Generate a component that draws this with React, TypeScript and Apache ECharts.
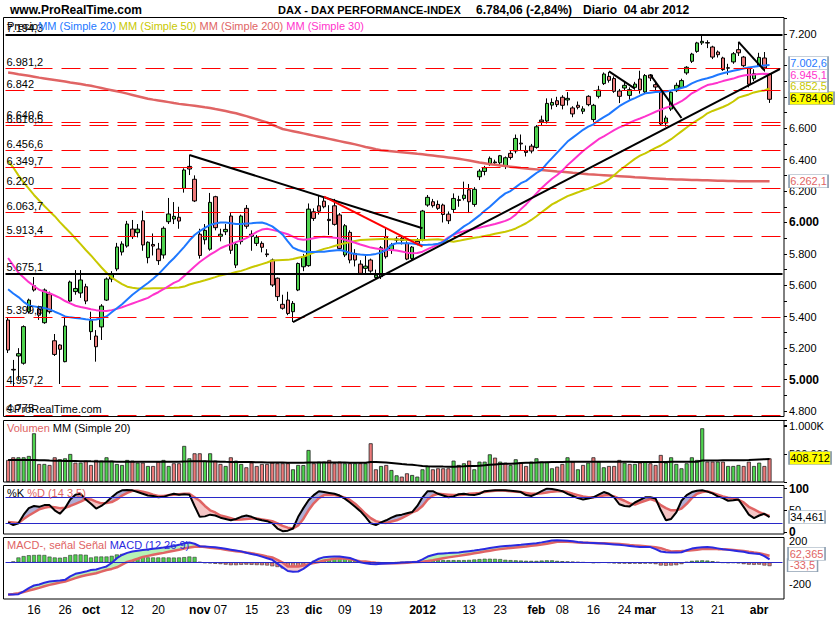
import React, { useEffect, useRef } from "react";
import * as echarts from "echarts";

const W = 835;
const H = 620;
const FONT = '"Liberation Sans", Arial, Helvetica, sans-serif';
const GREEN = "#4fd34f";
const RED = "#ec7a7a";
const BLUE = "#1e78ff";
const OLIVE = "#c8c800";
const SALMON = "#e06464";
const MAGENTA = "#ff33cc";
const MACDBLUE = "#2a2ae0";

// ---------------- data (DAX daily, 09 sep 2011 - 04 abr 2012) ----------------
const opens = [
  5379, 5065, 5150, 5104, 5432, 5597, 5450, 5362, 5545, 5247,
  5220, 5114, 5500, 5560, 5551, 5591, 5305, 5277, 5335, 5506,
  5640, 5704, 5812, 5850, 5958, 5935, 6011, 5776, 5860, 5831,
  5793, 6005, 6022, 6033, 6217, 6357, 6275, 5925, 5890, 5830,
  6164, 5912, 5941, 6041, 5729, 5878, 6090, 5912, 5867, 5867,
  5800, 5761, 5645, 5479, 5506, 5432, 5570, 5718, 5725, 6068,
  6106, 6136, 6020, 6106, 6048, 5793, 5937, 5803, 5735, 5708,
  5761, 5650, 5655, 5909, 5824, 5895, 5900, 5867, 5771, 5880,
  5888, 6111, 6132, 6115, 6111, 6053, 6083, 6145, 6153, 6208,
  6115, 6291, 6325, 6376, 6380, 6380, 6361, 6440, 6455, 6505,
  6455, 6486, 6478, 6652, 6646, 6747, 6775, 6797, 6780, 6729,
  6746, 6708, 6803, 6655, 6803, 6884, 6930, 6916, 6837, 6856,
  6809, 6860, 6913, 6831, 6939, 6877, 6829, 6633, 6722, 6839,
  6860, 6952, 7026, 7089, 7143, 7145, 7117, 7085, 7047, 6985,
  7022, 7100, 7053, 6983, 6915, 6998, 7047, 6945,
];
const highs = [
  5394, 5125, 5200, 5345, 5515, 5653, 5470, 5580, 5560, 5290,
  5225, 5400, 5630, 5697, 5697, 5610, 5432, 5315, 5480, 5650,
  5690, 5870, 5880, 6010, 6016, 5990, 6075, 5880, 5930, 5870,
  5975, 6156, 6130, 6100, 6345, 6430, 6300, 5960, 5990, 6188,
  6170, 5960, 5990, 6060, 5870, 6050, 6111, 5950, 5920, 5880,
  5830, 5770, 5650, 5540, 5559, 5500, 5745, 5800, 6121, 6090,
  6175, 6162, 6110, 6150, 6060, 5990, 5950, 5830, 5760, 5790,
  5770, 5700, 5850, 5966, 5870, 5910, 5915, 5880, 5850, 5900,
  6080, 6175, 6150, 6140, 6120, 6070, 6185, 6170, 6260, 6245,
  6225, 6340, 6360, 6420, 6400, 6430, 6420, 6460, 6560, 6560,
  6490, 6500, 6620, 6680, 6790, 6790, 6800, 6810, 6830, 6740,
  6770, 6740, 6810, 6755, 6870, 6955, 6958, 6930, 6850, 6900,
  6860, 6895, 6966, 6945, 6945, 6900, 6840, 6680, 6840, 6890,
  6915, 6995, 7080, 7150, 7194, 7160, 7125, 7095, 7055, 7010,
  7085, 7150, 7060, 6990, 6975, 7080, 7085, 6950,
];
const lows = [
  5169, 4957, 5000, 5095, 5420, 5560, 5380, 5355, 5420, 5150,
  4972, 5110, 5495, 5540, 5520, 5480, 5252, 5114, 5252, 5500,
  5620, 5690, 5790, 5840, 5895, 5905, 5820, 5740, 5790, 5730,
  5770, 5990, 5990, 5960, 6190, 6302, 6130, 5770, 5860, 5820,
  5950, 5880, 5920, 5800, 5710, 5860, 5960, 5820, 5850, 5810,
  5780, 5590, 5500, 5445, 5410, 5366, 5563, 5690, 5718, 6010,
  6050, 6090, 5920, 5980, 5820, 5780, 5740, 5720, 5670, 5670,
  5680, 5640, 5640, 5770, 5800, 5870, 5860, 5760, 5760, 5855,
  5880, 6100, 6095, 6080, 6000, 5990, 6060, 6100, 6140, 6060,
  6100, 6270, 6300, 6360, 6360, 6360, 6340, 6400, 6440, 6460,
  6420, 6440, 6470, 6620, 6630, 6720, 6735, 6720, 6745, 6670,
  6720, 6690, 6740, 6640, 6790, 6875, 6890, 6825, 6760, 6840,
  6780, 6845, 6820, 6820, 6900, 6830, 6615, 6610, 6710, 6830,
  6850, 6940, 7015, 7080, 7130, 7110, 7040, 7050, 6965, 6940,
  7010, 7060, 6990, 6860, 6900, 6990, 6960, 6761,
];
const closes = [
  5188, 5061, 5165, 5337, 5506, 5570, 5410, 5570, 5432, 5160,
  5193, 5341, 5621, 5580, 5634, 5500, 5375, 5209, 5468, 5640,
  5672, 5844, 5863, 5990, 5910, 5958, 5857, 5874, 5850, 5757,
  5963, 6054, 6039, 6009, 6334, 6340, 6137, 5790, 5950, 6128,
  5967, 5925, 5956, 5823, 5861, 6041, 5976, 5925, 5906, 5842,
  5795, 5602, 5528, 5454, 5421, 5485, 5739, 5782, 6085, 6026,
  6072, 6100, 6012, 5988, 5835, 5979, 5761, 5761, 5676, 5722,
  5691, 5665, 5839, 5782, 5856, 5888, 5885, 5767, 5843, 5865,
  6073, 6160, 6107, 6090, 6051, 6011, 6153, 6140, 6174, 6132,
  6211, 6327, 6348, 6408, 6385, 6425, 6412, 6414, 6535, 6500,
  6446, 6455, 6609, 6641, 6758, 6764, 6750, 6746, 6790, 6691,
  6733, 6723, 6750, 6746, 6843, 6945, 6905, 6835, 6803, 6873,
  6845, 6881, 6845, 6935, 6920, 6862, 6627, 6665, 6829, 6873,
  6903, 6988, 7072, 7143, 7153, 7142, 7053, 7068, 6973, 6982,
  7074, 7080, 6998, 6880, 6947, 7051, 6984, 6784.06,
];
const changePct = -2.84;

const ma20 = [
  5575, 5548, 5525, 5495, 5472, 5466, 5460, 5455, 5447, 5432,
  5418, 5402, 5396, 5392, 5389, 5384, 5380, 5383, 5390, 5402,
  5428, 5454, 5480, 5510, 5540, 5565, 5591, 5615, 5642, 5670,
  5705, 5740, 5772, 5808, 5845, 5885, 5920, 5945, 5965, 5984,
  5993, 6000, 6000, 5995, 5990, 5990, 5993, 5995, 5998, 6000,
  5990, 5975, 5950, 5922, 5880, 5840, 5825, 5815, 5812, 5812,
  5813, 5814, 5818, 5822, 5825, 5818, 5806, 5800, 5796, 5793,
  5795, 5800, 5808, 5825, 5858, 5868, 5868, 5867, 5866, 5862,
  5857, 5858, 5860, 5865, 5875, 5900, 5925, 5950, 5975, 5995,
  6020, 6045, 6075, 6100, 6130, 6160, 6185, 6200, 6225, 6250,
  6265, 6290, 6315, 6335, 6375, 6410, 6445, 6480, 6515, 6540,
  6565, 6590, 6610, 6625, 6650, 6670, 6690, 6715, 6740, 6760,
  6778, 6792, 6808, 6822, 6826, 6830, 6832, 6834, 6840, 6847,
  6856, 6866, 6885, 6900, 6910, 6918, 6928, 6940, 6950, 6958,
  6966, 6972, 6980, 6987, 6992, 6996, 7000, 7002.6,
];
const ma30 = [
  5774, 5727, 5680, 5650, 5620, 5596, 5572, 5560, 5550, 5535,
  5520, 5500, 5485, 5470, 5462, 5455, 5448, 5442, 5438, 5437,
  5442, 5450, 5460, 5472, 5484, 5496, 5508, 5520, 5540, 5556,
  5575, 5595, 5615, 5630, 5660, 5690, 5720, 5748, 5772, 5795,
  5815, 5836, 5850, 5862, 5875, 5886, 5900, 5920, 5940, 5955,
  5960, 5953, 5945, 5935, 5925, 5910, 5895, 5890, 5893, 5900,
  5906, 5909, 5906, 5903, 5900, 5890, 5880, 5871, 5860, 5850,
  5840, 5835, 5830, 5826, 5825, 5822, 5815, 5808, 5804, 5806,
  5814, 5830, 5845, 5860, 5880, 5905, 5922, 5935, 5945, 5952,
  5960, 5966, 5975, 5982, 5990, 6000, 6010, 6025, 6050, 6085,
  6115, 6150, 6185, 6220, 6250, 6278, 6302, 6330, 6365, 6395,
  6425, 6455, 6480, 6505, 6530, 6548, 6568, 6588, 6605, 6618,
  6635, 6650, 6662, 6675, 6690, 6705, 6718, 6730, 6742, 6755,
  6772, 6795, 6822, 6840, 6858, 6875, 6882, 6890, 6900, 6908,
  6916, 6928, 6935, 6940, 6942, 6945, 6946, 6945.1,
];
const ma50 = [
  6390, 6350, 6300, 6255, 6215, 6175, 6140, 6105, 6072, 6040,
  6002, 5968, 5935, 5898, 5862, 5825, 5790, 5752, 5715, 5680,
  5650, 5628, 5608, 5591, 5585, 5580, 5580, 5580, 5581, 5581,
  5582, 5583, 5584, 5586, 5592, 5605, 5615, 5623, 5632, 5642,
  5652, 5663, 5670, 5676, 5685, 5692, 5703, 5715, 5725, 5735,
  5745, 5758, 5760, 5761, 5762, 5768, 5775, 5782, 5795, 5808,
  5820, 5832, 5840, 5850, 5860, 5868, 5876, 5882, 5888, 5890,
  5892, 5894, 5895, 5895, 5894, 5892, 5890, 5889, 5888, 5888,
  5889, 5890, 5892, 5893, 5888, 5882, 5878, 5883, 5890, 5897,
  5903, 5908, 5914, 5920, 5928, 5935, 5941, 5950, 5962, 5978,
  5995, 6016, 6040, 6065, 6090, 6115, 6132, 6150, 6168, 6180,
  6192, 6205, 6215, 6228, 6242, 6255, 6275, 6300, 6330, 6355,
  6380, 6405, 6425, 6440, 6458, 6475, 6490, 6510, 6530, 6555,
  6580, 6605, 6630, 6650, 6670, 6695, 6710, 6722, 6735, 6750,
  6770, 6795, 6805, 6815, 6828, 6835, 6840, 6852.5,
];
const ma200 = [
  6955, 6950, 6944, 6939, 6934, 6928, 6922, 6917, 6912, 6907,
  6902, 6897, 6891, 6886, 6881, 6875, 6870, 6863, 6856, 6849,
  6842, 6835, 6828, 6820, 6812, 6804, 6796, 6788, 6782, 6777,
  6772, 6766, 6760, 6755, 6751, 6747, 6743, 6738, 6733, 6729,
  6722, 6716, 6709, 6702, 6695, 6686, 6677, 6667, 6657, 6647,
  6637, 6622, 6608, 6595, 6588, 6581, 6574, 6567, 6560, 6553,
  6546, 6539, 6532, 6525, 6518, 6511, 6504, 6497, 6489, 6481,
  6474, 6466, 6460, 6457, 6454, 6450, 6447, 6444, 6441, 6437,
  6434, 6430, 6426, 6422, 6418, 6414, 6410, 6406, 6400, 6394,
  6388, 6382, 6377, 6371, 6367, 6363, 6359, 6355, 6351, 6347,
  6344, 6341, 6338, 6334, 6331, 6328, 6325, 6323, 6320, 6316,
  6313, 6310, 6307, 6305, 6303, 6301, 6299, 6297, 6295, 6293,
  6291, 6288, 6286, 6284, 6282, 6280, 6278, 6276, 6275, 6274,
  6273, 6272, 6271, 6270, 6269, 6268, 6267, 6266, 6265, 6264,
  6264, 6263, 6263, 6262, 6262, 6262, 6262, 6262.1,
];

// volume in thousands
const volumes = [
  391, 438, 438, 438, 462, 864, 320, 320, 302, 438,
  403, 420, 497, 343, 343, 379, 302, 391, 379, 438,
  379, 320, 302, 391, 379, 343, 343, 284, 284, 361,
  391, 284, 332, 332, 640, 420, 509, 509, 379, 509,
  379, 320, 284, 438, 379, 320, 261, 343, 284, 320,
  320, 343, 332, 332, 332, 225, 302, 300, 568, 332,
  361, 361, 391, 332, 361, 332, 332, 332, 332, 332,
  687, 225, 284, 302, 213, 118, 95, 154, 124, 95,
  225, 284, 225, 243, 243, 243, 379, 302, 332, 379,
  225, 361, 361, 491, 432, 361, 343, 302, 403, 343,
  284, 361, 420, 361, 361, 243, 272, 320, 438, 361,
  225, 302, 343, 438, 361, 261, 284, 284, 391, 343,
  320, 320, 343, 361, 332, 302, 480, 343, 438, 320,
  243, 332, 438, 391, 953, 361, 361, 361, 361, 284,
  284, 302, 284, 361, 284, 343, 284, 420,
];
const volumeMA = [
  390, 391, 391, 391, 390, 392, 388, 385, 380, 378,
  376, 374, 372, 372, 370, 368, 366, 365, 364, 363,
  362, 361, 360, 360, 360, 360, 361, 361, 360, 360,
  360, 360, 360, 360, 365, 366, 368, 368, 366, 364,
  362, 360, 358, 357, 356, 355, 354, 353, 352, 350,
  348, 346, 345, 344, 343, 343, 343, 343, 346, 345,
  345, 345, 345, 344, 344, 344, 343, 343, 343, 343,
  356, 355, 350, 345, 338, 330, 320, 312, 305, 295,
  285, 280, 277, 275, 273, 272, 272, 275, 278, 282,
  285, 290, 296, 305, 312, 318, 322, 325, 330, 335,
  340, 343, 346, 350, 352, 355, 356, 357, 358, 358,
  358, 358, 358, 358, 358, 359, 359, 359, 359, 359,
  358, 357, 356, 355, 355, 355, 356, 357, 358, 359,
  359, 358, 358, 358, 380, 381, 382, 383, 384, 385,
  386, 387, 388, 390, 395, 400, 404, 408.712,
];

const stochK = [
  22, 16, 20, 40, 55, 60, 58, 62, 62, 50,
  42, 55, 75, 86, 88, 75, 65, 54, 60, 69,
  80, 90, 96, 97, 96, 92, 88, 84, 83, 80,
  81, 85, 88, 86, 87, 86, 60, 35, 36, 40,
  38, 33, 30, 27, 30, 35, 38, 35, 30, 27,
  25, 20, 8, 2, 3, 8, 35, 55, 73, 85,
  94, 92, 90, 88, 84, 77, 68, 58, 48, 35,
  20, 16, 22, 27, 33, 38, 40, 43, 46, 60,
  80, 94, 94, 88, 84, 80, 82, 87, 88, 86,
  85, 88, 94, 95, 96, 96, 96, 95, 94, 92,
  85, 83, 88, 94, 100, 99, 97, 94, 88, 83,
  78, 75, 77, 80, 86, 92, 88, 80, 64, 60,
  59, 68, 74, 80, 80, 77, 50, 27, 30, 45,
  72, 85, 92, 95, 96, 93, 89, 82, 78, 72,
  73, 75, 58, 40, 32, 38, 42, 34.461,
];
const stochD = [
  23, 22, 21, 30, 38, 45, 52, 56, 58, 57,
  55, 56, 60, 65, 70, 76, 75, 70, 66, 67,
  69, 75, 84, 90, 95, 95, 93, 90, 86, 83,
  83, 85, 86, 87, 88, 88, 80, 72, 60, 50,
  45, 38, 35, 32, 28, 29, 30, 31, 31, 29,
  27, 25, 20, 14, 10, 8, 15, 30, 50, 66,
  78, 85, 86, 85, 83, 79, 74, 65, 54, 42,
  32, 25, 22, 21, 24, 27, 32, 38, 45, 50,
  60, 75, 84, 88, 87, 86, 85, 85, 86, 88,
  89, 90, 92, 94, 95, 96, 95, 94, 93, 92,
  90, 88, 88, 89, 91, 93, 94, 94, 92, 88,
  85, 82, 80, 80, 82, 84, 85, 82, 77, 72,
  66, 63, 68, 72, 76, 72, 62, 55, 50, 50,
  54, 65, 78, 88, 92, 94, 90, 86, 82, 79,
  77, 74, 68, 58, 52, 46, 41, 37,
];

const macdLine = [
  -300, -298, -296, -270, -240, -215, -205, -190, -178, -172,
  -168, -162, -130, -106, -95, -85, -70, -65, -50, -37,
  -5, 40, 70, 90, 103, 110, 117, 122, 128, 134,
  140, 148, 155, 165, 180, 187, 175, 152, 150, 146,
  142, 136, 128, 120, 112, 104, 92, 80, 70, 55,
  40, 25, -10, -45, -80, -86, -84, -60, -25, 10,
  35, 50, 53, 56, 55, 50, 42, 25, 2, -8,
  -15, -16, -12, -10, -6, -4, 0, 2, 4, 8,
  30, 56, 70, 81, 85, 88, 92, 94, 100, 106,
  112, 119, 127, 135, 143, 150, 154, 157, 161, 165,
  170, 175, 180, 188, 197, 206, 207, 206, 203, 198,
  192, 188, 185, 183, 181, 177, 173, 169, 165, 160,
  155, 149, 144, 144, 144, 125, 103, 96, 94, 94,
  96, 115, 130, 138, 143, 144, 140, 132, 124, 118,
  112, 106, 100, 88, 83, 80, 60, 28.865,
];
const macdSignal = [
  -302, -295, -287, -275, -262, -250, -237, -222, -209, -198,
  -188, -178, -162, -146, -131, -120, -110, -100, -85, -70,
  -60, -45, -20, 5, 19, 35, 52, 62, 72, 81,
  90, 100, 110, 120, 130, 140, 148, 150, 145, 138,
  134, 128, 120, 112, 106, 100, 93, 87, 78, 68,
  56, 47, 25, 0, -37, -38, -37, -28, -15, -5,
  5, 19, 27, 35, 40, 38, 30, 20, 12, 9,
  3, -2, -6, -6, -6, -6, -4, -2, 2, 5,
  8, 14, 22, 31, 40, 48, 55, 62, 70, 78,
  86, 94, 102, 110, 118, 125, 130, 135, 140, 145,
  150, 156, 162, 168, 176, 185, 194, 197, 195, 191,
  187, 185, 184, 183, 181, 179, 177, 175, 172, 168,
  164, 160, 156, 152, 148, 142, 134, 118, 103, 105,
  107, 110, 115, 120, 125, 126, 126, 125, 125, 122,
  118, 113, 108, 100, 93, 87, 75, 62.365,
];
const macdHist = [
  0, 10, 47, 60, 68, 70, 72, 70, 55, 47,
  45, 50, 70, 75, 75, 72, 47, 56, 56, 56,
  62, 75, 80, 80, 81, 78, 55, 48, 47, 47,
  47, 47, 46, 47, 50, 56, 52, 5, -5, -8,
  -12, -15, -20, -25, -25, -22, -20, -22, -24, -25,
  -28, -35, -42, -55, -68, -75, -55, -30, -5, 15,
  30, 40, 50, 56, 52, 45, 30, 20, 10, 2,
  -8, -10, -8, -5, -2, 2, 4, 5, 5, 5,
  20, 30, 28, 24, 22, 22, 22, 22, 22, 24,
  28, 32, 35, 35, 34, 32, 25, 22, 20, 18,
  16, 15, 15, 18, 20, 20, 15, 12, 10, 8,
  5, 2, 0, -5, -2, 0, -3, -8, -10, -10,
  -12, -10, -12, -10, -10, -15, -28, -30, -28, -25,
  -15, 5, 15, 18, 20, 18, 12, 5, -2, -5,
  -3, -8, -15, -20, -22, -20, -28, -33.5,
];

// x-axis tick labels (trading-day index -> text)
const tickIndex = [5, 11, 16, 23, 29, 37, 41, 47, 53, 59, 65, 71, 80, 89, 95, 102, 107, 113, 119, 123, 131, 137, 145];
const tickText = ["16", "26", "oct", "12", "20", "nov", "07", "15", "23", "dic", "09", "19", "2012", "13", "23", "feb", "08", "16", "24", "mar", "13", "21", "abr"];
const boldTicks = ["oct", "nov", "dic", "2012", "feb", "mar", "abr"];

// horizontal levels drawn on the price panel
const dashedLevels = [6981.2, 6842, 6640.6, 6616.5, 6456.6, 6349.7, 6220, 6063.7, 5913.4, 5399.8, 4957.2, 4775];
const solidLevels = [7194.3, 5675.1];

// trend lines [index, price] -> [index, price]
const blackTrendFrom = [[35, 6430], [55, 5366], [116, 6962], [124, 6940], [141, 7150]];
const blackTrendTo = [[80, 5963], [149, 6977], [121, 6852], [130, 6665], [146, 6968]];
const redTrendFrom = [61, 6164];
const redTrendTo = [80, 5846];

// ---------------- helpers ----------------
function fmtNum(v: number, dec: number): string {
  const neg = v < 0;
  const s = Math.abs(v).toFixed(dec);
  const parts = s.split(".");
  const ip = parts[0].replace(/\B(?=(\d{3})+(?!\d))/g, ".");
  return (neg ? "-" : "") + ip + (parts[1] ? "," + parts[1] : "");
}
function fmtLevel(v: number): string {
  return Number.isInteger(v) ? fmtNum(v, 0) : fmtNum(v, 1);
}

const N = 150; // 148 trading days + 2 empty slots on the right
const LAST = closes.length - 1;
const cats = Array.from({ length: N }, (_, i) => String(i));
const GL = 5.5;
const GW = 777;

function valueBox(x: number, value: number, text: string, w: number, dx: number, dy: number, color: string, bg: string) {
  return {
    symbol: "rect",
    symbolSize: [w, 13],
    symbolOffset: [dx, dy],
    silent: true,
    animation: false,
    itemStyle: { color: bg, borderColor: "#8ea0b2", borderWidth: 1 },
    label: { show: true, position: "inside", formatter: text, color, fontSize: 11, fontFamily: FONT },
    data: [{ coord: [x, value] }],
  };
}

function lineSeries(data: number[], color: string, width: number, xi: number, yi: number, extra: any = {}) {
  return {
    type: "line",
    data,
    xAxisIndex: xi,
    yAxisIndex: yi,
    symbol: "none",
    showSymbol: false,
    silent: true,
    lineStyle: { color, width },
    itemStyle: { color },
    ...extra,
  };
}

function bandSeries(a: number[], b: number[], stack: string, upColor: string, downColor: string, xi: number, yi: number) {
  const base = a.map((v, i) => Math.min(v, b[i]));
  const up = a.map((v, i) => Math.max(v - b[i], 0));
  const down = a.map((v, i) => Math.max(b[i] - v, 0));
  const common = { type: "line", xAxisIndex: xi, yAxisIndex: yi, stack, stackStrategy: "all", symbol: "none", showSymbol: false, silent: true, lineStyle: { opacity: 0, width: 0 } };
  return [
    { ...common, data: base },
    { ...common, data: up, areaStyle: { color: upColor, opacity: 1 } },
    { ...common, data: down, areaStyle: { color: downColor, opacity: 1 } },
  ];
}

function buildOption(): any {
  const candleData = opens.map((o, i) => [o, closes[i], lows[i], highs[i]]);

  const levelItems: any[] = dashedLevels.map((v) => ({
    yAxis: v,
    lineStyle: { color: "#ff0000", width: 1, type: [19, 9] },
    label: { show: true, position: "insideStartTop", formatter: fmtLevel(v), color: "#000", fontSize: 11, fontFamily: FONT, distance: 1 },
  }));
  solidLevels.forEach((v) =>
    levelItems.push({
      yAxis: v,
      lineStyle: { color: "#000", width: 2, type: "solid" },
      label: { show: true, position: "insideStartTop", formatter: fmtLevel(v), color: "#000", fontSize: 11, fontFamily: FONT, distance: 1 },
    })
  );
  const trendItems: any[] = blackTrendFrom.map((f, k) => [
    { coord: f, lineStyle: { color: "#000", width: 2, type: "solid" }, label: { show: false } },
    { coord: blackTrendTo[k] },
  ]);
  trendItems.push([
    { coord: redTrendFrom, lineStyle: { color: "#ff0000", width: 2, type: "solid" }, label: { show: false } },
    { coord: redTrendTo },
  ]);

  const volData = volumes.map((v, i) => ({
    value: v,
    itemStyle: { color: i > 0 && closes[i] >= closes[i - 1] ? GREEN : RED },
  }));
  const histData = macdHist.map((v) => ({ value: v, itemStyle: { color: v >= 0 ? GREEN : RED } }));

  const tickMap: Record<number, string> = {};
  tickIndex.forEach((idx, k) => (tickMap[idx] = tickText[k]));

  const xAxes = [0, 1, 2, 3].map((k) => ({
    type: "category",
    gridIndex: k,
    data: cats,
    boundaryGap: true,
    axisLine: { show: false },
    axisTick: { show: false },
    splitLine: { show: false },
    axisLabel:
      k === 3
        ? {
            show: true,
            interval: (idx: number) => tickMap[idx] !== undefined,
            formatter: (_v: string, idx: number) => {
              const t = tickMap[idx] || "";
              return boldTicks.includes(t) ? `{b|${t}}` : `{n|${t}}`;
            },
            margin: -1,
            rich: {
              b: { fontWeight: "bold", fontSize: 12, fontFamily: FONT, color: "#000" },
              n: { fontSize: 12, fontFamily: FONT, color: "#000" },
            },
          }
        : { show: false },
  }));

  const yBase = {
    position: "right",
    offset: 1.5,
    axisLine: { show: false },
    splitLine: { show: false },
    axisTick: { show: true, length: 3, lineStyle: { color: "#000" } },
  };
  const labelBase = { color: "#000", fontSize: 11, fontFamily: FONT, margin: 5 };

  const yAxes = [
    {
      ...yBase,
      type: "value",
      gridIndex: 0,
      min: 4700,
      max: 7300,
      interval: 100,
      axisLabel: {
        ...labelBase,
        formatter: (v: number) => {
          if (v < 4800 || v > 7200 || v % 200 !== 0) return "";
          const t = fmtNum(v, 0);
          return v === 5000 || v === 6000 ? `{b|${t}}` : t;
        },
        rich: { b: { fontWeight: "bold", fontSize: 12, fontFamily: FONT, color: "#000" } },
      },
    },
    {
      ...yBase,
      type: "value",
      gridIndex: 1,
      min: 0,
      max: 1100,
      interval: 500,
      axisLabel: { ...labelBase, formatter: (v: number) => (v === 1000 ? "1.000K" : v === 500 ? "500.000" : "") },
    },
    {
      ...yBase,
      type: "value",
      gridIndex: 2,
      min: 0,
      max: 100,
      interval: 50,
      axisLabel: {
        ...labelBase,
        formatter: (v: number) => (v === 50 ? "50" : `{b|${v}}`),
        rich: { b: { fontWeight: "bold", fontSize: 12, fontFamily: FONT, color: "#000" } },
      },
    },
    {
      ...yBase,
      type: "value",
      gridIndex: 3,
      min: -400,
      max: 400,
      interval: 200,
      axisTick: { show: false },
      axisLabel: { ...labelBase, formatter: (v: number) => (v === 200 ? "200" : v === -200 ? "-200" : "") },
    },
  ];

  const series: any[] = [
    {
      type: "candlestick",
      xAxisIndex: 0,
      yAxisIndex: 0,
      data: candleData,
      barWidth: 4,
      silent: true,
      itemStyle: { color: GREEN, color0: RED, borderColor: "#000", borderColor0: "#000", borderWidth: 1 },
      markLine: { symbol: ["none", "none"], silent: true, animation: false, label: { show: false }, data: [...levelItems, ...trendItems] },
      markPoint: valueBox(LAST, closes[LAST], fmtNum(closes[LAST], 2), 45, 42, -1, "#000", "#ffff00"),
    },
    lineSeries(ma200, SALMON, 2.5, 0, 0, { markPoint: valueBox(LAST, ma200[LAST], fmtNum(ma200[LAST], 1), 39, 39, 0, SALMON, "#fff") }),
    lineSeries(ma50, OLIVE, 2, 0, 0, { markPoint: valueBox(LAST, ma50[LAST], fmtNum(ma50[LAST], 1), 39, 39, -2.5, OLIVE, "#fff") }),
    lineSeries(ma30, MAGENTA, 2, 0, 0, { markPoint: valueBox(LAST, ma30[LAST], fmtNum(ma30[LAST], 1), 39, 39, 1, MAGENTA, "#fff") }),
    lineSeries(ma20, BLUE, 2, 0, 0, { markPoint: valueBox(LAST, ma20[LAST], fmtNum(ma20[LAST], 1), 39, 39, -2, BLUE, "#fff") }),
    {
      type: "bar",
      xAxisIndex: 1,
      yAxisIndex: 1,
      data: volData,
      barWidth: 4,
      silent: true,
      itemStyle: { borderColor: "#222", borderWidth: 0.8 },
    },
    lineSeries(volumeMA, "#000", 2, 1, 1, {
      markPoint: valueBox(LAST, volumeMA[LAST], fmtNum(Math.round(volumeMA[LAST] * 1000), 0), 42, 40.5, -1, "#000", "#ffff00"),
    }),
    ...bandSeries(stochK, stochD, "sto", "#aeaed6", "#f5c6c6", 2, 2),
    lineSeries(stochD, SALMON, 2.5, 2, 2),
    lineSeries(stochK, "#000", 2, 2, 2, {
      markLine: {
        symbol: ["none", "none"],
        silent: true,
        animation: false,
        label: { show: false },
        lineStyle: { color: "#2828c8", width: 1, type: "solid" },
        data: [{ yAxis: 80 }, { yAxis: 20 }],
      },
      markPoint: valueBox(LAST, stochK[LAST], fmtNum(stochK[LAST], 3), 36, 37.5, 0, "#000", "#fff"),
    }),
    {
      type: "bar",
      xAxisIndex: 3,
      yAxisIndex: 3,
      data: histData,
      barWidth: 4,
      silent: true,
      itemStyle: { borderColor: "#333", borderWidth: 0.6 },
      markPoint: valueBox(LAST, macdHist[LAST], fmtNum(macdHist[LAST], 1), 30, 33, -1, SALMON, "#fff"),
    },
    ...bandSeries(macdLine, macdSignal, "macd", "#b6f2b6", "#f5c6c6", 3, 3),
    lineSeries(macdSignal, SALMON, 2.5, 3, 3, {
      markPoint: valueBox(LAST, macdSignal[LAST], fmtNum(macdSignal[LAST], 3), 37, 37, -2, SALMON, "#fff"),
    }),
    lineSeries(macdLine, MACDBLUE, 2, 3, 3, {
      markLine: {
        symbol: ["none", "none"],
        silent: true,
        animation: false,
        label: { show: false },
        lineStyle: { color: "#2828c8", width: 1, type: "solid" },
        data: [{ yAxis: 0 }],
      },
    }),
  ];

  const txt = (x: number, y: number, text: string, font: string, fill = "#000", rich?: any) => ({
    type: "text",
    x,
    y,
    z: 110,
    silent: true,
    style: { text, font, fill, textVerticalAlign: "middle", verticalAlign: "middle", rich },
  });
  const frame = (x: number, y: number, w: number, h: number) => ({
    type: "rect",
    z: 100,
    silent: true,
    shape: { x, y, width: w, height: h },
    style: { fill: "none", stroke: "#000", lineWidth: 1 },
  });
  const f11 = `11px ${FONT}`;
  const rich11 = (color: string) => ({ fill: color, color, fontSize: 11, fontFamily: FONT });

  const graphic = [
    txt(10, 10, "www.ProRealTime.com", `bold 12px ${FONT}`),
    txt(278, 10, "DAX - DAX PERFORMANCE-INDEX", `bold 11px ${FONT}`),
    txt(476, 10, `${fmtNum(closes[LAST], 2)} (${fmtNum(changePct, 2)}%)`, `bold 12px ${FONT}`),
    txt(583, 10, "Diario  04 abr 2012", `bold 12px ${FONT}`),
    txt(7, 26, "{k|Precio}{b|MM (Simple 20)} {y|MM (Simple 50)} {r|MM (Simple 200)} {m|MM (Simple 30)}", f11, "#000", {
      k: rich11("#000"),
      b: rich11(BLUE),
      y: rich11(OLIVE),
      r: rich11(SALMON),
      m: rich11(MAGENTA),
    }),
    txt(6, 409, "©ProRealTime.com", f11),
    txt(7, 428, "{r|Volumen} {k|MM (Simple 20)}", f11, "#000", { r: rich11(SALMON), k: rich11("#000") }),
    txt(7, 493, "{k|%K} {r|%D (14 3 5)}", f11, "#000", { r: rich11(SALMON), k: rich11("#000") }),
    txt(7, 545, "{r|MACD-, señal Señal} {b|MACD (12 26 9)}", f11, "#000", { r: rich11(SALMON), b: rich11(MACDBLUE) }),
    frame(3.5, 17.5, 780.5, 399),
    frame(3.5, 420.5, 780.5, 61.5),
    frame(3.5, 485.5, 780.5, 48.5),
    frame(3.5, 537.5, 780.5, 61.5),
  ];

  return {
    animation: false,
    backgroundColor: "#ffffff",
    textStyle: { fontFamily: FONT },
    grid: [
      { left: GL, width: GW, top: 18.25, height: 408.45 },
      { left: GL, width: GW, top: 420, height: 62 },
      { left: GL, width: GW, top: 488.6, height: 43.4 },
      { left: GL, width: GW, top: 519.7, height: 85.6 },
    ],
    xAxis: xAxes,
    yAxis: yAxes,
    series,
    graphic,
  };
}

export default function App() {
  const ref = useRef<HTMLDivElement>(null);
  useEffect(() => {
    if (!ref.current) return;
    const chart = echarts.init(ref.current, null, { renderer: "svg", width: W, height: H });
    chart.setOption(buildOption());
    return () => chart.dispose();
  }, []);
  return (
    <div
      ref={ref}
      style={{ position: "fixed", left: 0, top: 0, width: W, height: H, background: "#fff" }}
    />
  );
}
